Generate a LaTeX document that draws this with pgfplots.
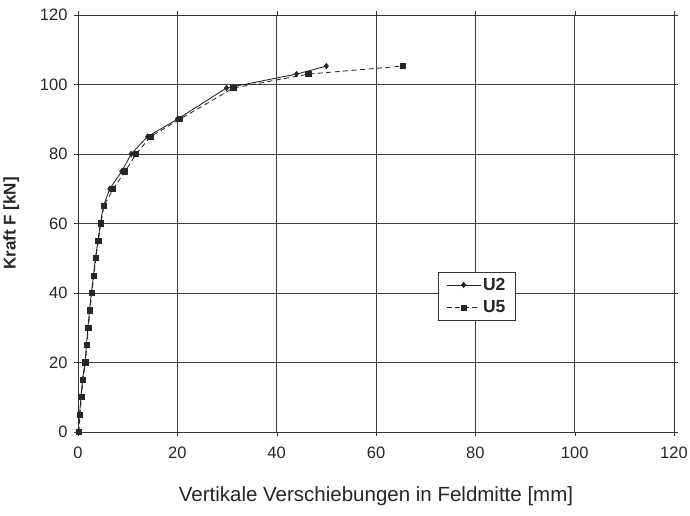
\documentclass[border=0pt]{standalone}
\usepackage{fontspec}
\setmainfont{Liberation Sans}
\usepackage{pgfplots}
\pgfplotsset{compat=1.18}
\begin{document}
\begin{tikzpicture}[x=1pt,y=1pt]
\begin{axis}[name=ax, at={(0,0)}, anchor=south west,
  scale only axis, width=596pt, height=417pt,
  xmin=0, xmax=120, ymin=0, ymax=120,
  xtick={0,20,...,120}, ytick={0,20,...,120},
  grid=major, major grid style={black!75, line width=0.5pt},
  axis line style={black!80, line width=0.6pt},
  tick align=outside, major tick length=4pt, tick style={black!80},
  /pgf/number format/assume math mode=true,
  tick label style={font=\fontsize{16.5}{19}\selectfont, text=black!85},
  xticklabel style={yshift=-7pt},
  yticklabel style={xshift=-3pt},
  xlabel={Vertikale Verschiebungen in Feldmitte [mm]},
  ylabel={\textbf{Kraft F [kN]}},
  xlabel style={font=\fontsize{20.5}{24}\selectfont, text=black!85, yshift=-22pt},
  ylabel style={font=\fontsize{17}{20}\selectfont, text=black!85, yshift=14pt},
  legend style={at={(0.604,0.384)}, anchor=north west, draw=black!80,
    font=\fontsize{17.5}{20}\selectfont\bfseries, text=black!85, row sep=5pt,
    inner xsep=8pt, inner ysep=4pt},
  legend image code/.code={%
    \draw[mark repeat=2,mark phase=2,#1] plot coordinates {(0pt,0pt)(17pt,0pt)(34pt,0pt)};},
  legend cell align=left,
  clip=false,
]
\addplot[black!85, line width=0.85pt, mark=diamond*, mark size=2.6pt, mark options={solid, fill=black!85}]
coordinates {(0,0)(0.3,5)(0.6,10)(0.9,15)(1.4,20)(1.7,25)(2.0,30)(2.3,35)(2.7,40)(3.1,45)(3.5,50)(4.0,55)(4.5,60)(5.1,65)(6.4,70)(8.8,75)(10.7,80)(14.0,85)(20.0,90)(29.9,99)(44,103)(50,105.3)};
\addlegendentry{U2}
\addplot[black!85, line width=0.85pt, dash pattern=on 5pt off 3.5pt, mark=square*, mark size=2.6pt, mark options={solid, fill=black!85}]
coordinates {(0.2,0)(0.4,5)(0.7,10)(1.0,15)(1.5,20)(1.8,25)(2.1,30)(2.4,35)(2.8,40)(3.2,45)(3.6,50)(4.1,55)(4.6,60)(5.2,65)(7.1,70)(9.5,75)(11.7,80)(14.6,85)(20.5,90)(31.3,99)(46.4,103)(65.4,105.3)};
\addlegendentry{U5}
\end{axis}
\pgfresetboundingbox
\useasboundingbox (-78pt,-83pt) rectangle ++(690pt,515pt);
\end{tikzpicture}
\end{document}
